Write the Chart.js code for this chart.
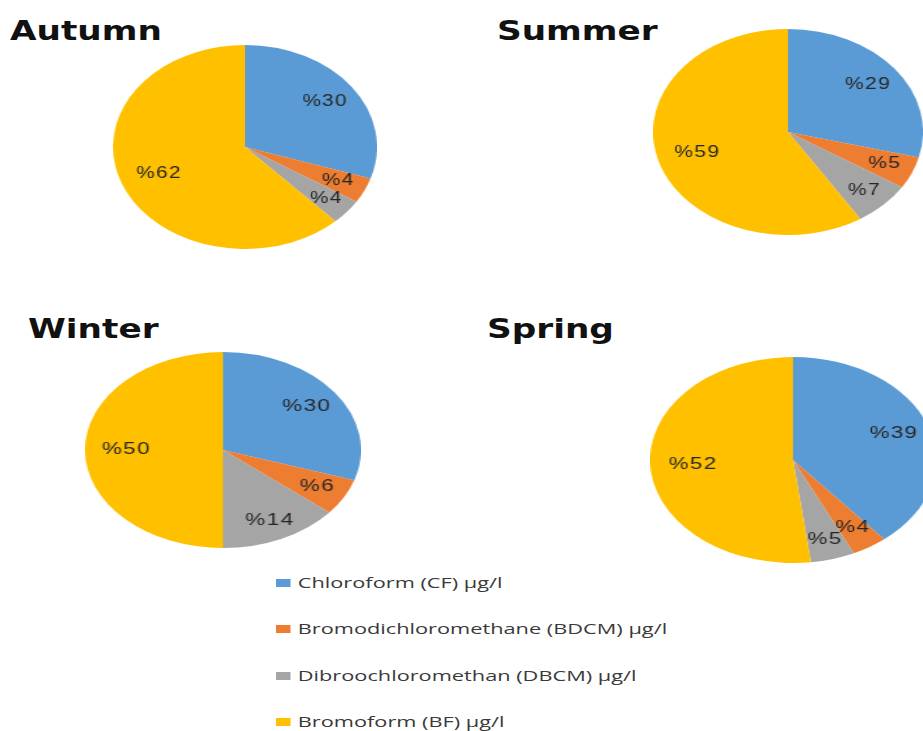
<!DOCTYPE html>
<html>
<head>
<meta charset="utf-8">
<script src="https://cdn.jsdelivr.net/npm/chart.js@4.4.1/dist/chart.umd.min.js"></script>
<style>
  body { margin: 0; background: #fff; }
  #page { position: relative; width: 923px; height: 731px; overflow: hidden; background: #fff; }
  .title { position: absolute; font: bold 27px "DejaVu Sans"; line-height: 27px; color: #111; transform-origin: 0 0; white-space: nowrap; }
  .pie { position: absolute; }
  #legend { position: absolute; left: 276px; top: 572px; transform-origin: 0 0; transform: scaleX(1.45); }
  .legend-item { height: 46.3px; display: flex; align-items: flex-start; font: 15px "Open Sans"; color: #3a3a3a; white-space: nowrap; }
  .legend-box { width: 10px; height: 8px; margin: 7px 5px 0 0; }
</style>
</head>
<body>
<div id="page"></div>
<script>
const seasons = ['Autumn', 'Summer', 'Winter', 'Spring'];
const compounds = [
  'Chloroform (CF) µg/l',
  'Bromodichloromethane (BDCM) µg/l',
  'Dibroochloromethan (DBCM) µg/l',
  'Bromoform (BF) µg/l'
];
const autumnValues = [30, 4, 4, 62];
const summerValues = [29, 5, 7, 59];
const winterValues = [30, 6, 14, 50];
const springValues = [39, 4, 5, 52];
const sliceColors = ['#5B9BD5', '#ED7D31', '#A5A5A5', '#FFC000'];

const seasonValues = [autumnValues, summerValues, winterValues, springValues];

// where each pie sits on the page (centre, radii), and its title
const layout = [
  { cx: 245, cy: 147, rx: 132, ry: 102, titleX: 10, titleY: 17 },
  { cx: 788, cy: 132, rx: 135, ry: 103, titleX: 497, titleY: 17 },
  { cx: 223, cy: 450, rx: 138, ry: 98, titleX: 28, titleY: 315 },
  { cx: 793, cy: 460, rx: 143, ry: 103, titleX: 487, titleY: 315 }
];
const titleScale = 1.27;
const labelRadius = [0.75, 0.78, 0.8, 0.7];

// draws "%NN" inside every slice
const sliceLabels = {
  id: 'sliceLabels',
  afterDatasetsDraw(chart) {
    const ctx = chart.ctx;
    const meta = chart.getDatasetMeta(0);
    const values = chart.data.datasets[0].data;
    ctx.save();
    ctx.font = '16px "Liberation Sans"';
    ctx.letterSpacing = '1px';
    ctx.fillStyle = '#262626';
    ctx.textAlign = 'center';
    ctx.textBaseline = 'middle';
    meta.data.forEach((arc, i) => {
      const p = arc.getProps(['x', 'y', 'startAngle', 'endAngle', 'outerRadius'], true);
      const mid = (p.startAngle + p.endAngle) / 2;
      const r = p.outerRadius * labelRadius[i];
      ctx.fillText('%' + values[i], p.x + Math.cos(mid) * r, p.y + Math.sin(mid) * r);
    });
    ctx.restore();
  }
};

const page = document.getElementById('page');

seasons.forEach((season, idx) => {
  const pos = layout[idx];

  const title = document.createElement('div');
  title.className = 'title';
  title.textContent = season;
  title.style.left = pos.titleX + 'px';
  title.style.top = pos.titleY + 'px';
  title.style.transform = `scaleX(${titleScale})`;
  page.appendChild(title);

  // the source picture is stretched sideways, so squash a round pie into an ellipse
  const box = document.createElement('div');
  box.className = 'pie';
  const size = pos.ry * 2;
  box.style.width = size + 'px';
  box.style.height = size + 'px';
  box.style.left = (pos.cx - pos.ry) + 'px';
  box.style.top = (pos.cy - pos.ry) + 'px';
  box.style.transform = `scaleX(${pos.rx / pos.ry})`;
  const canvas = document.createElement('canvas');
  box.appendChild(canvas);
  page.appendChild(box);

  new Chart(canvas.getContext('2d'), {
    type: 'pie',
    data: {
      labels: compounds,
      datasets: [{
        data: seasonValues[idx],
        backgroundColor: sliceColors,
        borderWidth: 0
      }]
    },
    options: {
      responsive: true,
      maintainAspectRatio: false,
      animation: false,
      layout: { padding: 0 },
      plugins: {
        legend: { display: false },
        tooltip: { enabled: false }
      }
    },
    plugins: [sliceLabels]
  });
});

// shared legend below the pies
const legend = document.createElement('div');
legend.id = 'legend';
compounds.forEach((name, i) => {
  const item = document.createElement('div');
  item.className = 'legend-item';
  const swatch = document.createElement('span');
  swatch.className = 'legend-box';
  swatch.style.backgroundColor = sliceColors[i];
  const text = document.createElement('span');
  text.textContent = name;
  item.appendChild(swatch);
  item.appendChild(text);
  legend.appendChild(item);
});
page.appendChild(legend);
</script>
</body>
</html>
